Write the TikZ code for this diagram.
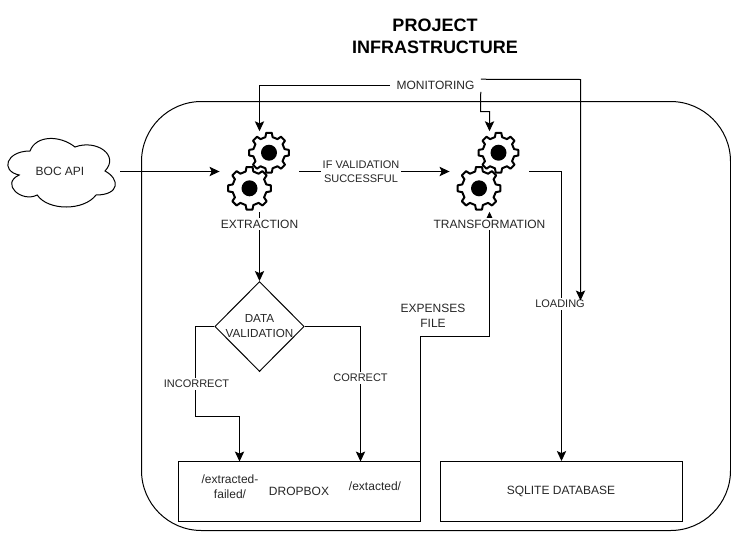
\documentclass[tikz,border=0pt]{standalone}
\usepackage{fontspec}
\setmainfont{Liberation Sans}
\usetikzlibrary{arrows.meta,shapes.geometric}
\tikzset{
  pen/.style={draw=black,line width=.75pt},
  conn/.style={pen,-{Stealth[length=7.5pt,width=7pt,inset=1.6pt]}},
  lbl/.style={font=\fontsize{9}{11.25}\selectfont,text=black!85,align=center,inner sep=0pt},
  slbl/.style={font=\fontsize{8.25}{10.5}\selectfont,text=black!85,align=center,inner sep=0pt,fill=white,inner xsep=1pt,inner ysep=1.5pt},
  wlbl/.style={lbl,fill=white,inner xsep=1pt,inner ysep=1.5pt},
  boxx/.style={pen,rectangle,minimum width=#1,minimum height=45pt,inner sep=0pt},
  gearzone/.style={rectangle,minimum width=59.5pt,minimum height=60pt,inner sep=0pt},
  gearline/.style={draw=black,fill=white,line width=1.5pt,line join=round}
}
\newcommand{\gearat}[3]{%
  \begin{scope}[shift={(#1,#2)}]
    \draw[gearline] (-13:0.8*#3) \foreach \a in {0,45,...,315}{
      -- (\a-13:0.8*#3) -- (\a-8:#3) -- (\a+8:#3) -- (\a+13:0.8*#3)} -- cycle;
    \fill[black] (0,0) circle (8);
  \end{scope}}
\begin{document}
\begin{tikzpicture}[x=.75pt,y=-.75pt]
\useasboundingbox (0,0) rectangle (731,532);
\node[pen,rectangle,rounded corners=45pt,minimum width=441.75pt,minimum height=321.75pt,inner sep=0pt] (frame) at (436,316) {};
\node[font=\bfseries\fontsize{13.5}{16.5}\selectfont,align=center,inner sep=0pt] (title) at (435,36) {PROJECT\\INFRASTRUCTURE};

% cloud
\node[lbl,minimum width=90pt,minimum height=60pt] (boc) at (60,171.5) {BOC API};
\begin{scope}[shift={(0,131)},x=90pt,y=-60pt]
\draw[pen] (.25,.25) .. controls (.05,.25) and (0,.5) .. (.16,.55)
  .. controls (0,.66) and (.18,.9) .. (.31,.8)
  .. controls (.4,1) and (.7,1) .. (.8,.8)
  .. controls (1,.8) and (1,.6) .. (.875,.5)
  .. controls (1,.3) and (.8,.1) .. (.625,.2)
  .. controls (.5,.05) and (.3,.05) .. (.25,.25) -- cycle;
\end{scope}

% gear zones
\node[gearzone] (ext) at (259.5,171.5) {};
\node[gearzone] (trf) at (489.5,171.5) {};
\gearat{269}{152.7}{20}
\gearat{249.5}{188.3}{21.5}
\gearat{498.5}{152.7}{20}
\gearat{479}{188.3}{21.5}

\node[lbl,minimum width=67.5pt,minimum height=9pt] (mon) at (435.5,85.5) {MONITORING};
\node[pen,diamond,minimum width=67pt,minimum height=67.5pt,inner sep=0pt] (val) at (259.5,326.5) {};
\node[font=\fontsize{8.75}{11.25}\selectfont,text=black!85,align=center,inner sep=0pt] (valt) at (259.5,326) {DATA\\VALIDATION};
\node[boxx=181.5pt] (drop) at (299.5,491.5) {};
\node[boxx=181.5pt] (sql) at (561.5,491.5) {};
\node[lbl] (dropt) at (299,491.5) {DROPBOX};
\node[lbl] (fail) at (230,487) {/extracted-\\failed/};
\node[lbl] (okdir) at (375,486) {/extacted/};
\node[lbl] (sqlt) at (561,491) {SQLITE DATABASE};

\coordinate (failin) at (239.5,461.5);
\coordinate (okin) at (360.5,461.5);
\coordinate (expout) at (420.5,461.5);
\coordinate (montip) at (580.5,300.5);

% connectors
\draw[conn] (boc.east) -- (ext.west);
\draw[conn] (ext.east) -- (trf.west);
\draw[conn] (ext.south) -- (val.north);
\draw[conn] (mon.west) -| (ext.north);
\draw[conn] (mon.south east) -- (480.5,111.5) -- (489.5,111.5) -- (trf.north);
\draw[conn] (trf.east) -| (sql.north);
\draw[conn] (expout) -- (420.5,336.5) -| (trf.south);
\draw[conn] (val.west) -- (195.5,326.5) -- (195.5,416.5) -| (failin);
\draw[conn] (val.east) -| (okin);

% labels over connectors
\node[slbl] (ifv) at (361,172) {IF VALIDATION\\SUCCESSFUL};
\node[wlbl] (extl) at (259.5,224) {EXTRACTION};
\node[wlbl] (trfl) at (489.5,224) {TRANSFORMATION};
\node[lbl] (expl) at (433,316) {EXPENSES\\FILE};
\node[slbl] (inc) at (196.5,384) {INCORRECT};
\node[slbl] (cor) at (360.5,378) {CORRECT};
\node[slbl] (load) at (560,304) {LOADING};
\draw[conn] (mon.north east) -- (580.5,79.5) -- (montip);
\end{tikzpicture}
\end{document}
